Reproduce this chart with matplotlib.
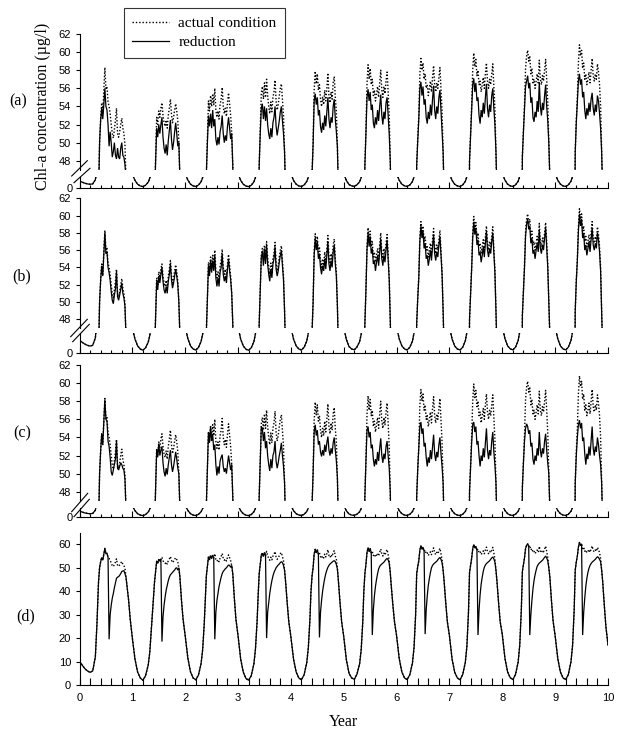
import matplotlib
matplotlib.use("Agg")
import matplotlib.pyplot as plt
from matplotlib.lines import Line2D
from matplotlib.ticker import MultipleLocator

# sampling offsets inside each year (fraction of a year)
t_winter = [0.00, 0.05, 0.10, 0.15, 0.20, 0.25, 0.30, 0.33, 0.36]
t_summer = [0.38, 0.40, 0.42, 0.44, 0.46, 0.48, 0.50, 0.52, 0.54, 0.56, 0.58, 0.60, 0.62,
            0.64, 0.66, 0.68, 0.70, 0.72, 0.74, 0.76, 0.78, 0.80, 0.82, 0.84, 0.86]
t_fall = [0.88, 0.90, 0.93, 0.96]
end_value = 17.0  # value at year 10

# actual condition, winter part (one row per year)
actual_winter = [
    [10.2, 8.5, 7.0, 6.0, 5.4, 6.0, 12.0, 26.0, 44.0],
    [20.0, 11.0, 5.5, 3.0, 2.0, 4.0, 8.5, 14.0, 24.0],
    [21.0, 11.5, 5.6, 3.0, 2.2, 4.2, 9.0, 15.0, 26.0],
    [21.0, 11.0, 5.4, 2.8, 2.0, 4.0, 9.0, 15.5, 27.0],
    [20.5, 11.0, 5.5, 3.0, 2.2, 4.4, 9.5, 16.0, 28.0],
    [20.6, 10.7, 5.0, 3.0, 2.4, 4.6, 9.0, 15.0, 27.0],
    [21.0, 11.2, 5.5, 3.0, 2.3, 4.4, 9.4, 16.0, 30.0],
    [21.0, 11.0, 5.4, 3.0, 2.2, 4.4, 9.6, 16.5, 31.0],
    [21.5, 11.4, 5.6, 3.1, 2.3, 4.5, 9.8, 17.0, 32.0],
    [21.0, 11.2, 5.5, 3.0, 2.3, 4.5, 10.0, 17.0, 32.0],
]

# actual condition, summer part
actual_summer = [
    [50.0, 52.5, 54.4, 53.2, 55.8, 58.3, 56.0, 56.2, 54.5, 54.0, 53.2, 52.0, 51.0, 50.5, 51.5, 52.4, 53.8, 51.0, 50.6, 51.2, 52.0, 52.7, 51.6, 51.0, 49.8],
    [30.0, 38.0, 44.0, 48.5, 52.8, 52.0, 53.5, 52.8, 53.8, 54.4, 53.0, 52.2, 51.8, 52.5, 51.6, 53.0, 53.8, 54.8, 53.2, 52.2, 52.8, 53.6, 54.3, 53.5, 52.4],
    [36.0, 46.5, 50.5, 54.6, 53.5, 55.2, 54.0, 55.4, 54.2, 56.0, 53.6, 52.8, 53.5, 52.6, 54.2, 54.8, 56.1, 54.0, 53.2, 53.8, 52.9, 54.4, 55.5, 54.2, 53.0],
    [38.0, 47.5, 51.5, 55.5, 56.2, 54.8, 56.6, 55.0, 57.0, 55.2, 54.0, 53.2, 54.5, 53.4, 55.0, 55.6, 56.9, 54.6, 53.6, 54.2, 55.2, 56.0, 56.5, 54.8, 53.0],
    [40.0, 46.5, 50.0, 55.8, 57.9, 56.5, 57.6, 55.8, 56.4, 54.8, 54.0, 55.0, 54.2, 55.8, 54.6, 56.0, 57.7, 55.2, 54.4, 55.6, 54.8, 56.6, 57.3, 55.0, 53.5],
    [40.0, 47.5, 51.5, 56.5, 58.6, 57.0, 58.2, 56.4, 57.0, 55.2, 55.8, 54.6, 55.4, 56.2, 55.0, 56.6, 58.0, 55.8, 55.0, 56.2, 55.4, 56.8, 57.8, 55.6, 53.0],
    [47.5, 50.5, 53.0, 57.5, 59.3, 58.0, 58.8, 57.0, 57.6, 56.0, 56.4, 55.2, 56.0, 56.8, 55.6, 57.2, 58.5, 56.4, 55.6, 56.6, 56.0, 57.2, 58.3, 56.0, 53.5],
    [48.0, 51.0, 54.0, 58.0, 59.9, 58.4, 59.2, 57.4, 58.0, 56.4, 56.8, 55.6, 56.4, 57.2, 56.0, 57.6, 58.8, 56.8, 56.0, 57.0, 56.4, 57.6, 58.7, 56.2, 53.8],
    [48.5, 51.5, 54.2, 58.2, 59.6, 60.2, 59.0, 59.6, 57.6, 58.2, 56.6, 57.0, 56.0, 56.8, 57.6, 56.6, 59.1, 57.0, 56.4, 57.4, 56.8, 58.0, 59.2, 57.0, 54.5],
    [49.0, 52.5, 55.0, 58.8, 60.8, 59.6, 60.2, 58.2, 58.8, 57.0, 57.6, 56.4, 57.0, 57.8, 56.6, 58.0, 59.3, 57.4, 56.8, 57.6, 57.0, 58.7, 57.8, 56.4, 54.0],
]

# actual condition, autumn decline
actual_fall = [
    [46.0, 42.0, 36.0, 28.0],
    [50.0, 46.0, 36.0, 28.0],
    [51.0, 47.5, 37.0, 28.0],
    [49.0, 44.0, 35.0, 27.0],
    [49.5, 44.0, 35.0, 27.0],
    [48.0, 42.0, 34.0, 27.0],
    [49.0, 44.0, 35.0, 27.0],
    [49.0, 44.0, 35.0, 27.0],
    [50.0, 46.0, 36.0, 27.5],
    [49.0, 44.0, 34.0, 25.0],
]

# reduction scenario (a), summer part
red_a = [
    [50.0, 52.5, 53.8, 52.6, 54.2, 56.0, 54.0, 53.6, 52.0, 49.6, 51.2, 50.0, 48.4, 49.0, 50.0, 48.6, 48.2, 49.4, 48.4, 48.2, 49.4, 50.0, 48.6, 48.4, 47.6],
    [30.0, 38.0, 44.0, 48.0, 51.6, 50.6, 52.0, 51.0, 52.0, 52.8, 50.6, 49.4, 48.8, 49.8, 48.6, 50.2, 51.4, 52.5, 50.4, 49.2, 50.0, 51.2, 52.2, 51.0, 49.6],
    [36.0, 46.5, 50.0, 53.0, 51.8, 53.2, 51.6, 53.6, 51.8, 52.6, 50.4, 49.7, 50.6, 49.8, 51.2, 51.8, 53.0, 51.0, 50.0, 50.8, 50.2, 51.8, 52.8, 51.6, 50.4],
    [38.0, 47.5, 51.0, 53.8, 54.3, 52.6, 54.0, 52.4, 53.8, 52.0, 51.0, 50.4, 51.6, 50.6, 52.2, 52.8, 54.0, 51.8, 50.8, 51.6, 52.4, 53.4, 54.0, 52.4, 51.0],
    [40.0, 46.5, 49.8, 54.6, 55.4, 54.2, 55.0, 53.0, 53.6, 51.8, 51.1, 52.2, 51.4, 53.0, 51.8, 53.4, 55.0, 52.6, 51.6, 52.8, 52.2, 54.0, 54.8, 52.6, 51.2],
    [40.0, 47.5, 51.0, 55.0, 55.9, 54.6, 55.6, 53.6, 54.2, 52.2, 51.6, 52.8, 52.0, 53.6, 52.4, 54.0, 55.3, 53.0, 52.0, 53.4, 52.6, 54.4, 55.0, 53.0, 51.0],
    [47.5, 50.2, 52.6, 56.0, 56.7, 55.2, 56.2, 54.2, 54.8, 52.8, 52.1, 53.4, 52.6, 54.2, 53.0, 54.8, 56.3, 53.6, 52.6, 54.0, 53.2, 55.0, 55.8, 53.6, 51.6],
    [48.0, 50.8, 53.4, 56.4, 57.1, 55.6, 56.6, 54.6, 55.0, 53.0, 52.1, 53.6, 52.8, 54.4, 53.2, 55.0, 56.5, 53.8, 52.8, 54.2, 53.4, 55.2, 56.0, 53.8, 52.0],
    [48.5, 51.2, 53.6, 56.2, 56.8, 57.4, 56.0, 56.6, 54.4, 55.0, 52.8, 52.3, 53.4, 52.8, 54.6, 53.4, 56.7, 54.0, 53.0, 54.4, 53.6, 55.2, 56.4, 54.0, 52.4],
    [49.0, 52.2, 54.4, 56.8, 57.6, 56.4, 57.0, 55.0, 55.6, 53.6, 52.6, 53.8, 53.0, 54.4, 53.4, 54.8, 55.5, 53.8, 53.0, 54.2, 53.4, 55.2, 54.6, 53.2, 51.6],
]

# reduction scenario (b), summer part
red_b = [
    [50.0, 52.5, 54.2, 53.0, 55.5, 58.0, 55.6, 55.8, 54.0, 53.4, 52.5, 51.2, 50.2, 49.8, 50.8, 51.5, 53.5, 50.6, 50.2, 50.8, 51.5, 52.2, 51.0, 50.5, 49.5],
    [30.0, 38.0, 44.0, 48.4, 52.4, 51.4, 53.0, 52.2, 53.2, 54.0, 52.4, 51.4, 51.0, 51.8, 51.0, 52.4, 53.2, 54.4, 52.6, 51.6, 52.2, 53.0, 53.8, 53.0, 52.0],
    [36.0, 46.5, 50.4, 54.2, 53.0, 54.8, 53.4, 54.8, 53.6, 55.4, 52.8, 51.8, 52.8, 51.8, 53.4, 54.0, 55.6, 53.2, 52.4, 53.0, 52.2, 53.8, 55.0, 53.6, 52.6],
    [38.0, 47.5, 51.4, 55.2, 55.8, 54.2, 56.2, 54.4, 56.6, 54.4, 53.2, 52.4, 53.8, 52.8, 54.4, 55.0, 56.4, 53.8, 53.0, 53.6, 54.6, 55.4, 56.0, 54.2, 52.6],
    [40.0, 46.5, 49.9, 55.4, 57.4, 56.0, 57.0, 55.0, 55.6, 54.0, 53.2, 54.2, 53.6, 55.0, 53.8, 55.4, 57.0, 54.4, 53.6, 54.8, 54.0, 55.8, 56.6, 54.4, 53.0],
    [40.0, 47.5, 51.4, 56.0, 58.0, 56.4, 57.6, 55.6, 56.2, 54.4, 54.8, 53.6, 54.6, 55.4, 54.2, 55.8, 57.3, 55.0, 54.2, 55.4, 54.6, 56.0, 57.2, 55.0, 52.6],
    [47.5, 50.4, 52.8, 57.0, 58.8, 57.4, 58.2, 56.2, 56.8, 55.0, 55.4, 54.2, 55.0, 56.0, 54.8, 56.4, 57.8, 55.6, 54.8, 55.8, 55.2, 56.6, 57.6, 55.4, 53.2],
    [48.0, 50.9, 53.8, 57.4, 59.3, 57.8, 58.6, 56.6, 57.2, 55.4, 55.8, 54.6, 55.4, 56.4, 55.2, 56.8, 58.2, 56.0, 55.2, 56.2, 55.6, 57.0, 58.0, 55.6, 53.4],
    [48.5, 51.4, 54.0, 57.6, 59.0, 59.6, 58.4, 58.8, 56.8, 57.4, 55.6, 56.0, 55.0, 56.0, 56.8, 55.8, 58.4, 56.2, 55.6, 56.6, 56.0, 57.4, 58.6, 56.4, 54.0],
    [49.0, 52.4, 54.8, 58.2, 60.2, 58.8, 59.6, 57.4, 58.0, 56.0, 56.6, 55.4, 56.2, 57.0, 55.8, 57.2, 58.6, 56.6, 56.0, 56.8, 56.2, 58.0, 57.2, 55.8, 53.6],
]

# reduction scenario (c), summer part
red_c = [
    [50.0, 52.5, 54.4, 53.2, 55.8, 58.2, 56.0, 55.8, 53.6, 53.0, 51.8, 50.2, 49.8, 50.4, 51.0, 51.6, 53.6, 50.6, 50.4, 50.8, 51.2, 51.0, 50.6, 50.4, 49.4],
    [30.0, 38.0, 44.0, 48.5, 52.6, 51.8, 53.3, 52.0, 52.6, 53.0, 51.2, 50.2, 49.7, 50.6, 49.9, 51.0, 51.8, 52.6, 51.0, 50.2, 50.8, 51.6, 52.4, 51.6, 50.6],
    [36.0, 46.5, 50.5, 54.6, 53.4, 55.2, 53.6, 54.4, 52.6, 53.2, 51.0, 49.8, 50.8, 50.0, 51.4, 51.8, 52.1, 50.8, 50.2, 50.6, 50.0, 51.0, 52.0, 51.2, 50.4],
    [38.0, 47.5, 51.5, 55.2, 55.0, 53.6, 54.6, 52.8, 53.6, 52.0, 51.0, 50.3, 51.6, 50.6, 52.0, 52.4, 53.6, 51.4, 50.6, 51.2, 52.0, 52.6, 53.4, 52.0, 50.8],
    [40.0, 46.5, 50.0, 54.6, 55.4, 54.2, 54.8, 53.2, 53.6, 52.4, 51.9, 52.6, 52.0, 53.2, 52.4, 53.4, 54.1, 52.6, 52.0, 52.8, 52.2, 53.4, 54.0, 52.6, 51.4],
    [40.0, 47.5, 51.4, 54.8, 55.2, 54.0, 54.6, 52.8, 53.2, 51.6, 50.8, 51.6, 51.0, 52.4, 51.4, 52.8, 53.9, 52.0, 51.2, 52.2, 51.6, 53.0, 53.6, 52.0, 50.6],
    [47.5, 50.5, 52.8, 55.2, 55.7, 54.4, 55.0, 53.0, 53.4, 51.8, 50.8, 51.8, 51.2, 52.6, 51.6, 53.0, 54.3, 52.2, 51.4, 52.4, 51.8, 53.2, 54.0, 52.2, 50.8],
    [48.0, 50.8, 53.4, 55.4, 55.7, 54.6, 55.2, 53.2, 53.6, 52.0, 50.8, 52.0, 51.4, 52.8, 51.8, 53.4, 55.0, 52.6, 51.6, 52.6, 52.0, 53.6, 54.6, 52.4, 51.0],
    [48.5, 51.2, 53.6, 55.0, 55.5, 55.2, 54.4, 54.8, 53.0, 53.4, 51.6, 51.0, 52.0, 51.4, 52.8, 52.0, 54.6, 52.6, 51.8, 52.8, 52.2, 53.6, 54.4, 52.6, 51.2],
    [49.0, 52.0, 54.0, 55.4, 55.9, 55.0, 55.6, 53.6, 54.0, 52.2, 51.0, 52.2, 51.6, 53.0, 52.0, 53.6, 55.2, 52.8, 52.0, 53.0, 52.4, 54.0, 53.2, 52.0, 51.0],
]

# reduction scenario (d), values from offset 0.50 to 0.86
red_d = [
    [56.0, 56.2, 54.5, 19.5, 30.0, 34.0, 37.0, 39.0, 41.5, 43.5, 45.5, 46.0, 46.2, 46.8, 47.5, 48.4, 48.6, 48.8, 47.5],
    [53.5, 52.8, 53.8, 18.5, 29.0, 34.0, 37.5, 40.5, 42.5, 44.5, 46.0, 47.0, 47.5, 48.0, 48.6, 49.0, 49.8, 50.0, 49.0],
    [54.0, 55.4, 54.2, 19.5, 31.0, 36.0, 39.0, 42.0, 44.0, 46.0, 47.5, 48.5, 49.0, 49.6, 50.0, 50.6, 51.2, 51.0, 50.2],
    [56.6, 55.0, 20.0, 31.0, 35.0, 39.0, 42.0, 44.5, 46.5, 48.0, 49.0, 50.0, 50.6, 51.2, 51.6, 52.2, 52.6, 52.2, 51.0],
    [57.6, 55.8, 20.3, 31.0, 36.0, 40.0, 43.0, 45.5, 47.5, 49.0, 50.2, 51.0, 51.6, 52.0, 52.4, 52.8, 53.0, 52.6, 51.4],
    [58.2, 56.4, 21.3, 32.0, 38.0, 42.0, 45.0, 47.5, 49.5, 50.6, 51.2, 51.6, 52.0, 52.4, 53.0, 53.6, 54.0, 53.4, 52.0],
    [58.8, 57.0, 21.7, 32.0, 38.0, 42.5, 45.5, 48.0, 50.0, 51.0, 51.6, 52.0, 52.4, 52.8, 53.4, 54.0, 54.4, 53.6, 52.2],
    [59.2, 57.4, 21.3, 32.0, 38.5, 43.0, 46.0, 48.5, 50.2, 51.2, 51.8, 52.2, 52.6, 53.0, 53.6, 54.2, 54.6, 53.8, 52.4],
    [59.0, 21.3, 30.0, 36.0, 41.0, 44.5, 47.0, 49.0, 50.6, 51.4, 52.0, 52.4, 52.8, 53.2, 53.8, 54.4, 55.0, 54.2, 53.0],
    [60.2, 21.3, 31.0, 37.0, 42.0, 45.5, 48.0, 49.8, 51.0, 51.8, 52.4, 52.8, 53.2, 53.6, 54.2, 54.7, 54.4, 53.6, 52.6],
]


def build(summer_rows=None, dip_rows=None):
    t, v = [], []
    for k in range(10):
        summer = list(actual_summer[k]) if summer_rows is None else list(summer_rows[k])
        if dip_rows is not None:
            summer[6:] = dip_rows[k]
        t += [k + o for o in t_winter + t_summer + t_fall]
        v += actual_winter[k] + summer + actual_fall[k]
    t.append(10.0)
    v.append(end_value)
    return t, v


W, H = 621, 733
X0, X1 = 79.5, 608.0
SERIF = "Liberation Serif"
SANS = "Liberation Sans"
TICK_SIZE = 8

plt.rcParams["font.family"] = SANS
plt.rcParams["axes.linewidth"] = 0.8

fig = plt.figure(figsize=(W / 100, H / 100), dpi=100)


def add_ax(top, bottom):
    return fig.add_axes([X0 / W, 1 - bottom / H, (X1 - X0) / W, (bottom - top) / H])


def style(ax, ylim, yticks, bottom_spine):
    ax.set_xlim(0, 10)
    ax.set_ylim(*ylim)
    ax.set_yticks(yticks)
    for s in ["top", "right"]:
        ax.spines[s].set_visible(False)
    ax.spines["bottom"].set_visible(bottom_spine)
    ax.tick_params(axis="y", direction="out", length=3, width=0.8, labelsize=TICK_SIZE, pad=3)
    ax.patch.set_alpha(0)


def draw(ax, red):
    t, v = build()
    ax.plot(red[0], red[1], color="black", lw=0.9, solid_joinstyle="miter")
    ax.plot(t, v, color="black", lw=1.0, linestyle=(0, (1, 1.4)))


series = {"a": build(red_a), "b": build(red_b), "c": build(red_c)}

# upper/lower pixel rows for panels a-c
rows = {
    "a": (34.0, 169.8, 177.0, 188.0),
    "b": (198.3, 327.9, 333.0, 352.7),
    "c": (365.0, 500.8, 508.0, 516.7),
}
breaks = {
    "a": [((71.7, 176.0), (87.3, 160.7)), ((74.0, 182.7), (90.0, 168.3))],
    "b": [((70.7, 336.7), (87.3, 319.3)), ((72.7, 341.7), (89.3, 324.3))],
    "c": [((71.7, 511.7), (87.7, 493.3)), ((74.0, 516.7), (89.3, 499.3))],
}

for key, (top, mid, low_top, bottom) in rows.items():
    up = add_ax(top, mid)
    lo = add_ax(low_top, bottom)
    style(up, (47, 62), list(range(48, 63, 2)), False)
    up.set_xticks([])
    style(lo, (0, 16), [0], True)
    lo.xaxis.set_major_locator(MultipleLocator(1))
    lo.xaxis.set_minor_locator(MultipleLocator(0.2))
    lo.tick_params(axis="x", which="major", direction="in", length=4, width=0.8, labelbottom=False)
    lo.tick_params(axis="x", which="minor", direction="in", length=2.5, width=0.8)
    lo.tick_params(axis="y", pad=2)
    draw(up, series[key])
    draw(lo, series[key])
    for (xa, ya), (xb, yb) in breaks[key]:
        fig.add_artist(Line2D([xa / W, xb / W], [1 - ya / H, 1 - yb / H],
                              transform=fig.transFigure, color="black", lw=0.8))

# panel d
axd = add_ax(532.6, 685.0)
style(axd, (0, 65), list(range(0, 61, 10)), True)
axd.xaxis.set_major_locator(MultipleLocator(1))
axd.xaxis.set_minor_locator(MultipleLocator(0.2))
axd.tick_params(axis="x", which="both", direction="in", length=5, width=0.8, labelsize=TICK_SIZE, pad=6)
draw(axd, build(dip_rows=red_d))

# labels
fig.text(43 / W, 1 - 106 / H, "Chl-a concentration (\u00b5g/l)", rotation=90,
         ha="center", va="center", family=SERIF, fontsize=11.5)
for lab, (x, y) in {"(a)": (18.5, 101), "(b)": (22, 276), "(c)": (22, 433), "(d)": (26, 616)}.items():
    fig.text(x / W, 1 - y / H, lab, ha="center", va="center", family=SERIF, fontsize=11.5)
fig.text(343 / W, 1 - 722 / H, "Year", ha="center", va="center", family=SERIF, fontsize=11.5)

handles = [Line2D([], [], color="black", lw=1.0, linestyle=(0, (1, 1.4))),
           Line2D([], [], color="black", lw=0.9)]
leg = fig.legend(handles, ["actual condition", "reduction"], loc="upper left",
                 bbox_to_anchor=(124 / W, 1 - 8 / H), borderaxespad=0, fancybox=False,
                 frameon=True, edgecolor="black", borderpad=0.55, labelspacing=0.35,
                 handlelength=2.4, handletextpad=0.6, prop={"family": SERIF, "size": 11})
leg.get_frame().set_linewidth(0.8)

fig.savefig("out.png", dpi=100)
